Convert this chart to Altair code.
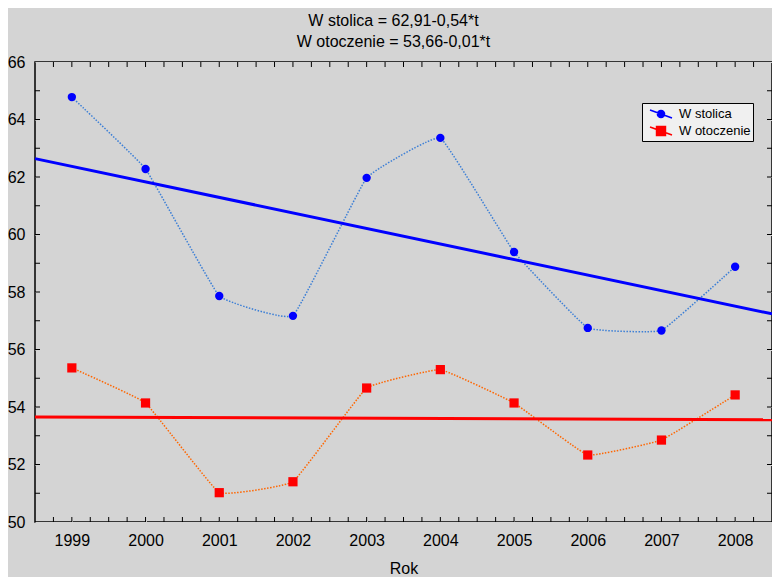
import altair as alt
import pandas as pd
import numpy as np

years = [1999, 2000, 2001, 2002, 2003, 2004, 2005, 2006, 2007, 2008]
w_stolica = [64.78, 62.28, 57.86, 57.17, 61.97, 63.36, 59.39, 56.75, 56.66, 58.88]
w_otoczenie = [55.36, 54.14, 51.02, 51.40, 54.66, 55.30, 54.14, 52.33, 52.85, 54.42]

series_names = ["W stolica", "W otoczenie"]
title_lines = ["W stolica = 62,91-0,54*t", "W otoczenie = 53,66-0,01*t"]

# regression lines at the edges of the x range (from the title equations, t = year - 1998)
trend_x = [1998.5, 2008.5]
trend_stolica = [62.64, 57.24]
trend_otoczenie = [53.655, 53.555]

x_ticks_minor = list(np.arange(1998.75, 2008.5, 0.25))
y_ticks_minor = list(range(51, 66))
y_major = list(range(50, 67, 2))

FONT = "Liberation Sans"
W, H = 737, 460

df_s = pd.DataFrame({"Rok": years, "value": w_stolica})
df_o = pd.DataFrame({"Rok": years, "value": w_otoczenie})
tr_s = pd.DataFrame({"Rok": trend_x, "value": trend_stolica})
tr_o = pd.DataFrame({"Rok": trend_x, "value": trend_otoczenie})
legend_df = pd.DataFrame({"seria": series_names})
xt = pd.DataFrame({"Rok": x_ticks_minor})
yt = pd.DataFrame({"value": y_ticks_minor})

x_scale = alt.Scale(domain=[1998.5, 2008.5], nice=False, zero=False)
y_scale = alt.Scale(domain=[50, 66], nice=False, zero=False)
x_axis = alt.Axis(values=years, format="d", title="Rok", grid=True, gridColor="#d4d4d4",
                  ticks=False, domain=False, labelFontSize=16, labelFont=FONT,
                  labelColor="black", labelPadding=10, titleFontSize=16, titleFont=FONT,
                  titleFontWeight="normal", titleColor="black", titlePadding=12,
                  labelFlush=False)
y_axis = alt.Axis(values=y_major, title=None, grid=True, gridColor="#d4d4d4",
                  ticks=False, domain=False, labelFontSize=16, labelFont=FONT,
                  labelColor="black", labelPadding=10, labelFlush=False)

X = alt.X("Rok:Q", scale=x_scale, axis=x_axis)
Y = alt.Y("value:Q", scale=y_scale, axis=y_axis)

dots_s = alt.Chart(df_s).mark_line(color="#3c7fd6", strokeWidth=1.5, strokeDash=[1.5, 1.5],
                                   interpolate="cardinal", tension=0.75).encode(x=X, y=Y)
dots_o = alt.Chart(df_o).mark_line(color="#ff6600", strokeWidth=1.5, strokeDash=[1.5, 1.5],
                                   interpolate="cardinal", tension=0.75).encode(x=X, y=Y)
trend_s = alt.Chart(tr_s).mark_line(color="#0000ff", strokeWidth=3).encode(x=X, y=Y)
trend_o = alt.Chart(tr_o).mark_line(color="#ff0000", strokeWidth=3).encode(x=X, y=Y)
pts_s = alt.Chart(df_s).mark_point(shape="circle", filled=True, size=70, color="#0000ff",
                                   opacity=1).encode(x=X, y=Y)
pts_o = alt.Chart(df_o).mark_point(shape="square", filled=True, size=85, color="#ff0000",
                                   opacity=1).encode(x=X, y=Y)

line_path = "M-1.375,-0.5L1.375,0.5"
circle_path = line_path + "M-0.45,0A0.45,0.45,0,1,0,0.45,0A0.45,0.45,0,1,0,-0.45,0Z"
square_path = line_path + "M-0.56,-0.56L0.56,-0.56L0.56,0.56L-0.56,0.56Z"

leg = alt.Legend(orient="none", legendX=607, legendY=41, title=None,
                 fillColor="#f0f0f0", strokeColor="black", padding=2,
                 labelFontSize=13, labelFont=FONT, labelColor="black",
                 symbolSize=256, symbolStrokeWidth=1.5, rowPadding=1,
                 symbolOffset=8, labelOffset=9)
legend_layer = alt.Chart(legend_df).mark_point(strokeWidth=1.5, opacity=1).encode(
    shape=alt.Shape("seria:N", scale=alt.Scale(domain=series_names, range=[circle_path, square_path]), legend=leg),
    fill=alt.Fill("seria:N", scale=alt.Scale(domain=series_names, range=["#0000ff", "#ff0000"]), legend=leg),
    stroke=alt.Stroke("seria:N", scale=alt.Scale(domain=series_names, range=["#0000ff", "#ff0000"]), legend=leg),
).transform_filter("false")

tick_b = alt.Chart(xt).mark_rule(color="black", strokeWidth=1).encode(x=X, y=alt.value(H), y2=alt.value(H - 5))
tick_t = alt.Chart(xt).mark_rule(color="black", strokeWidth=1).encode(x=X, y=alt.value(0), y2=alt.value(5))
tick_l = alt.Chart(yt).mark_rule(color="black", strokeWidth=1).encode(y=Y, x=alt.value(0), x2=alt.value(5))
tick_r = alt.Chart(yt).mark_rule(color="black", strokeWidth=1).encode(y=Y, x=alt.value(W), x2=alt.value(W - 5))

chart = alt.layer(
    dots_s, dots_o, trend_s, trend_o, pts_s, pts_o, tick_b, tick_t, tick_l, tick_r, legend_layer
).properties(
    width=W, height=H,
    title=alt.TitleParams(text=title_lines, fontSize=16, font=FONT, fontWeight="normal",
                          color="black", anchor="middle", dx=-10, offset=4, lineHeight=21),
    padding={"left": 27, "top": 54, "right": 0, "bottom": 55},
    autosize=alt.AutoSizeParams(type="none"),
).configure(background="#d4d4d4").configure_view(
    fill="white", stroke="black", strokeWidth=1.5
)

chart.save("out.html", embed_options={"renderer": "svg", "actions": False})
